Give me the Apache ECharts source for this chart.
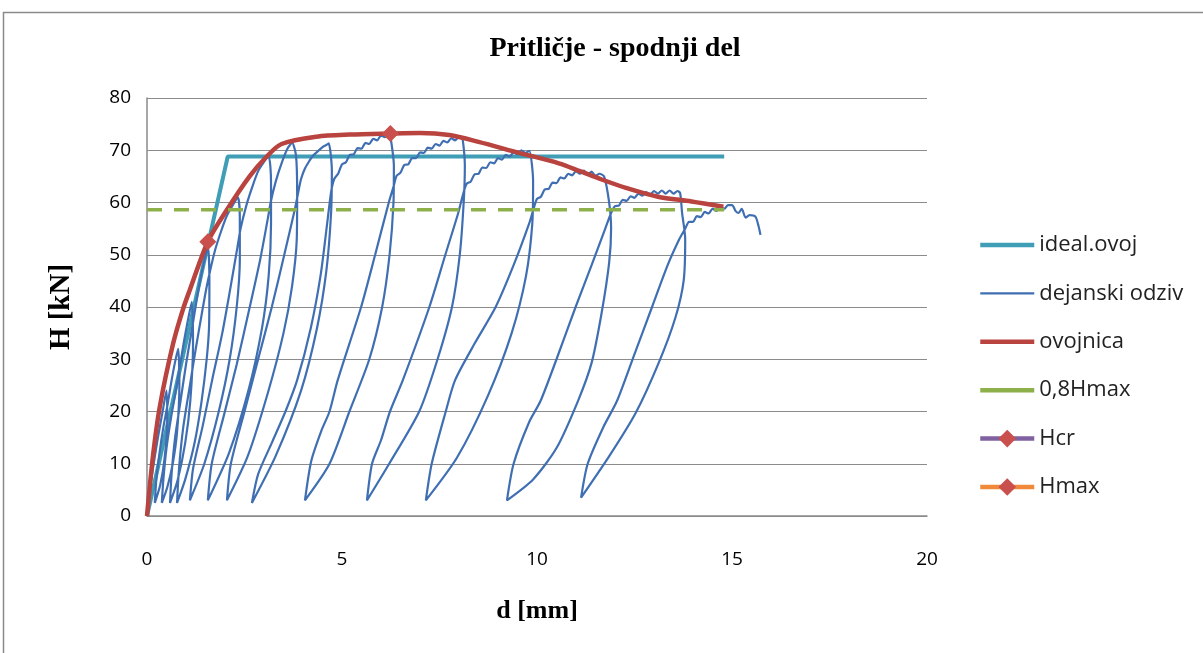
<!DOCTYPE html>
<html>
<head>
<meta charset="utf-8">
<script src="https://cdn.jsdelivr.net/npm/echarts@6/dist/echarts.min.js"></script>
<style>
html,body{margin:0;padding:0;background:#fff;}
#chart{width:1203px;height:653px;}
</style>
</head>
<body>
<div id="chart"></div>
<script>
// ---- data (d [mm], H [kN]) ----
const chartTitle = 'Pritličje - spodnji del';
const xTicks = [0, 5, 10, 15, 20];
const yTicks = [0, 10, 20, 30, 40, 50, 60, 70, 80];
const legendNames = ['ideal.ovoj', 'dejanski odziv', 'ovojnica', '0,8Hmax', 'Hcr', 'Hmax'];

const idealOvoj = [[0, 0], [2.07, 68.8], [14.8, 68.8]];
const hmax08 = [[0, 58.6], [14.8, 58.6]];
const hcrPoint = [[1.56, 52.5]];
const hmaxPoint = [[6.24, 73.2]];
const ovojnica = [[0,0],[0.15,11.3],[0.33,21],[0.67,33],[0.92,39.5],[1.1,43.3],[1.56,52.5],[2.05,58.6],[2.63,65],[3.07,68.8],[3.45,71.2],[4.35,72.6],[5.2,73],[6.24,73.2],[7.0,73.3],[7.75,72.9],[8.5,71.6],[9.54,69.5],[10.56,67.5],[11.1,66],[11.66,64.4],[12.28,62.8],[13.1,61.1],[13.96,60.2],[14.78,59.2]];

// measured response, branch by branch
const seg0    = [[0,0],[0.06,4],[0.15,9],[0.28,15],[0.4,20],[0.5,24]];
const unloadA = [[0.52,18],[0.45,11],[0.34,6],[0.2,2.5]];
const reloadB = [[0.24,7],[0.32,12],[0.42,17],[0.52,21],[0.62,25.5],[0.72,29.5],[0.8,32]];
const unloadB = [[0.83,25],[0.77,16],[0.66,10],[0.52,5.5],[0.38,2.5]];
const reloadC = [[0.42,7],[0.5,13],[0.62,19],[0.74,24],[0.84,28.5],[0.95,33.5],[1.05,37.5],[1.15,41]];
const unloadC = [[1.18,33],[1.11,22],[0.98,14],[0.79,7],[0.59,2.5]];
const reloadD = [[0.63,8],[0.72,15],[0.86,22],[1.0,29],[1.1,33.5],[1.19,37.5],[1.3,42.5],[1.43,47.5],[1.56,51.5]];
const unloadD = [[1.6,45],[1.59,36],[1.53,30],[1.4,22],[1.22,14],[0.98,7],[0.77,2.5]];
const reloadE = [[0.82,9],[0.93,17],[1.1,25],[1.25,32],[1.4,38.5],[1.52,43.5],[1.62,47],[1.75,51],[1.9,54.5],[2.05,57.5],[2.2,59.5],[2.33,61]];
const unloadE = [[2.38,57],[2.38,49],[2.3,40],[2.12,30],[1.84,20],[1.47,10],[1.1,3]];
const reloadF = [[1.18,9],[1.43,17.3],[1.67,26],[1.93,35],[2.14,43.7],[2.32,51.5],[2.4,55],[2.55,59.5],[2.7,63],[2.85,66],[3.0,67.8],[3.12,68.8]];
const unloadF = [[3.18,64],[3.18,56],[3.12,46],[2.95,36],[2.6,24],[2.1,12],[1.56,3]];
const reloadG = [[1.66,10],[1.98,19.5],[2.3,29],[2.62,39.5],[2.9,49],[3.1,57],[3.17,60],[3.3,64],[3.45,67.5],[3.6,70.3],[3.72,71.4]];
const unloadG = [[3.82,69],[3.85,62],[3.84,53],[3.72,44],[3.5,35],[3.1,23.6],[2.58,11.4],[2.05,3]];
const reloadH = [[2.15,10],[2.5,20],[2.85,30],[3.2,40],[3.52,50],[3.8,59],[3.88,62],[3.95,64.5],[4.05,66.5],[4.15,67.8],[4.25,68.9],[4.35,69.6],[4.5,70.6],[4.6,71],[4.66,71.3]];
const unloadH = [[4.74,66],[4.72,58],[4.6,47],[4.36,36],[3.95,24],[3.3,11.5],[2.69,2.5]];
const reloadI = [[2.85,8],[3.2,14],[3.55,20],[3.85,26],[4.2,36],[4.45,46],[4.62,56],[4.72,62],[4.8,64.5],[4.9,65.5],[5.0,67.3],[5.1,67.7],[5.2,69.1],[5.3,69.2],[5.4,70.4],[5.5,70.3],[5.6,71.4],[5.7,71.2],[5.8,72.2],[5.9,71.9],[6.0,72.8],[6.1,72.5],[6.2,73.3],[6.23,73.2]];
const unloadI = [[6.33,67],[6.32,60],[6.22,50],[6.03,40],[5.7,30],[5.19,20],[4.68,10],[4.05,3]];
const reloadJ = [[4.21,10.5],[4.47,16.3],[4.68,20],[4.89,26],[5.49,40],[5.85,50],[6.2,60],[6.32,63],[6.4,65.1],[6.5,65.7],[6.6,67.2],[6.7,67.3],[6.8,68.5],[6.9,68.5],[7.0,69.6],[7.1,69.5],[7.2,70.5],[7.3,70.3],[7.4,71.2],[7.5,70.9],[7.6,71.8],[7.7,71.5],[7.8,72.3],[7.9,71.9],[8.0,72.6],[8.08,72.5]];
const unloadJ = [[8.15,67],[8.12,60],[8.02,50],[7.82,40],[7.45,30],[6.98,20],[6.21,10],[5.64,3]];
const reloadK = [[5.77,10],[6.0,14.5],[6.23,20],[6.56,26],[7.24,40],[7.65,50],[7.98,58],[8.12,62],[8.2,63.6],[8.3,64.0],[8.4,65.4],[8.5,65.5],[8.6,66.7],[8.7,66.6],[8.8,67.7],[8.9,67.5],[9.0,68.5],[9.1,68.2],[9.2,69.1],[9.3,68.8],[9.4,69.6],[9.5,69.2],[9.6,70.0],[9.7,69.5],[9.8,69.9]];
const unloadK = [[9.9,64],[9.88,56],[9.72,46],[9.35,35],[8.74,23],[7.95,11.2],[7.15,3]];
const reloadL = [[7.3,10],[7.66,20],[7.9,26],[8.4,33],[8.94,40],[9.4,48],[9.8,56],[9.92,59],[10.0,60.7],[10.1,61.1],[10.2,62.5],[10.3,62.6],[10.4,63.8],[10.5,63.7],[10.6,64.8],[10.7,64.6],[10.8,65.5],[10.9,65.2],[11.0,66.0],[11.1,65.5],[11.2,66.1],[11.3,65.4],[11.4,65.9],[11.5,65.1],[11.6,65.5],[11.72,65]];
const unloadL = [[11.85,60],[11.9,55],[11.85,48.5],[11.66,39],[11.4,29.3],[11.05,22],[10.5,13],[9.9,7],[9.23,3]];
const reloadM = [[9.4,10],[9.8,18],[10.09,22],[10.5,30],[10.99,40],[11.4,48],[11.75,55],[11.9,58],[12.0,59.3],[12.1,59.4],[12.2,60.5],[12.3,60.3],[12.4,61.2],[12.5,60.9],[12.6,61.7],[12.7,61.3],[12.8,62.0],[12.9,61.5],[13.0,62.2],[13.1,61.7],[13.2,62.3],[13.3,61.7],[13.4,62.3],[13.5,61.7],[13.6,62.2],[13.67,61.8]];
const unloadM = [[13.72,58],[13.8,53],[13.76,45],[13.55,38],[13.12,29.3],[12.53,19.7],[11.84,11.3],[11.13,3.5]];
const reloadN = [[11.3,10],[11.7,17],[12.05,22],[12.5,31],[12.95,40],[13.35,48],[13.65,53],[13.8,55],[13.9,56.3],[14.0,56.3],[14.1,57.4],[14.2,57.2],[14.3,58.2],[14.4,57.9],[14.5,58.8],[14.6,58.4],[14.7,59.2],[14.8,58.8],[14.9,59.5],[15.0,59.5],[15.1,58.3],[15.17,58],[15.25,58.8],[15.35,57.1],[15.45,57.6],[15.6,57.3],[15.68,55.5],[15.73,53.8]];

const dejanskiOdziv = [].concat(seg0, unloadA, reloadB, unloadB, reloadC, unloadC, reloadD, unloadD,
  reloadE, unloadE, reloadF, unloadF, reloadG, unloadG, reloadH, unloadH, reloadI, unloadI,
  reloadJ, unloadJ, reloadK, unloadK, reloadL, unloadL, reloadM, unloadM, reloadN);

const serifFont = '"Liberation Serif", "DejaVu Serif", serif';
const sansFont = '"Open Sans", Lato, sans-serif';
const thickIcon = 'path://M0,0 H54 V4.5 H0 Z';
const thinIcon = 'path://M0,0 H54 V2.4 H0 Z';

const chart = echarts.init(document.getElementById('chart'), null, {renderer: 'canvas'});
chart.setOption({
  animation: false,
  backgroundColor: '#ffffff',
  title: {
    text: chartTitle,
    left: 610, top: 30, textAlign: 'center',
    textStyle: {fontFamily: serifFont, fontWeight: 'bold', fontSize: 28, color: '#000'}
  },
  graphic: [{
    type: 'rect', shape: {x: 3.5, y: 12.5, width: 1300, height: 700},
    style: {fill: 'none', stroke: '#8a8a8a', lineWidth: 1.5}, silent: true
  }],
  grid: {left: 147, top: 98, width: 780, height: 418, containLabel: false},
  legend: {
    orient: 'vertical', left: 973, top: 229,
    itemWidth: 54, itemHeight: 22, itemGap: 26.4,
    textStyle: {fontFamily: sansFont, fontSize: 22, color: '#222', lineHeight: 22},
    data: [
      {name: legendNames[0], icon: thickIcon},
      {name: legendNames[1], icon: thinIcon},
      {name: legendNames[2], icon: thickIcon},
      {name: legendNames[3], icon: thickIcon},
      {name: legendNames[4], lineStyle: {width: 4.5}},
      {name: legendNames[5], lineStyle: {width: 4.5}}
    ]
  },
  xAxis: {
    type: 'value', min: xTicks[0], max: xTicks[xTicks.length - 1], interval: 5,
    name: 'd [mm]', nameLocation: 'middle', nameGap: 82,
    nameTextStyle: {fontFamily: serifFont, fontWeight: 'bold', fontSize: 26, color: '#000'},
    axisLine: {lineStyle: {color: '#8a8a8a', width: 1.5}},
    axisTick: {show: false},
    axisLabel: {margin: 34, fontFamily: sansFont, fontSize: 19, color: '#000'},
    splitLine: {show: false}
  },
  yAxis: {
    type: 'value', min: yTicks[0], max: yTicks[yTicks.length - 1], interval: 10,
    name: 'H [kN]', nameLocation: 'middle', nameGap: 71, nameRotate: 90,
    nameTextStyle: {fontFamily: serifFont, fontWeight: 'bold', fontSize: 29, color: '#000'},
    axisLine: {show: true, lineStyle: {color: '#8a8a8a', width: 1.5}},
    axisTick: {show: false},
    axisLabel: {margin: 16, fontFamily: sansFont, fontSize: 19, color: '#000'},
    splitLine: {show: true, lineStyle: {color: '#8c8c8c', width: 1}}
  },
  series: [
    {name: legendNames[0], type: 'line', data: idealOvoj, symbol: 'none',
     lineStyle: {color: '#3f9db6', width: 4}, itemStyle: {color: '#3f9db6'}},
    {name: legendNames[1], type: 'line', data: dejanskiOdziv, symbol: 'none', smooth: 0.25,
     lineStyle: {color: '#3f6fb2', width: 2.2}, itemStyle: {color: '#3f6fb2'}},
    {name: legendNames[2], type: 'line', data: ovojnica, symbol: 'none', smooth: 0.3,
     lineStyle: {color: '#b8433f', width: 4.5}, itemStyle: {color: '#b8433f'}},
    {name: legendNames[3], type: 'line', data: hmax08, symbol: 'none',
     lineStyle: {color: '#8db04a', width: 3.5, type: [15, 12]}, itemStyle: {color: '#8db04a'}},
    {name: legendNames[4], type: 'line', data: hcrPoint, symbol: 'diamond', symbolSize: 17,
     lineStyle: {color: '#7f60a0', width: 4}, itemStyle: {color: '#c9504c'}},
    {name: legendNames[5], type: 'line', data: hmaxPoint, symbol: 'diamond', symbolSize: 17,
     lineStyle: {color: '#f08a3a', width: 4}, itemStyle: {color: '#c9504c'}}
  ]
});
</script>
</body>
</html>
